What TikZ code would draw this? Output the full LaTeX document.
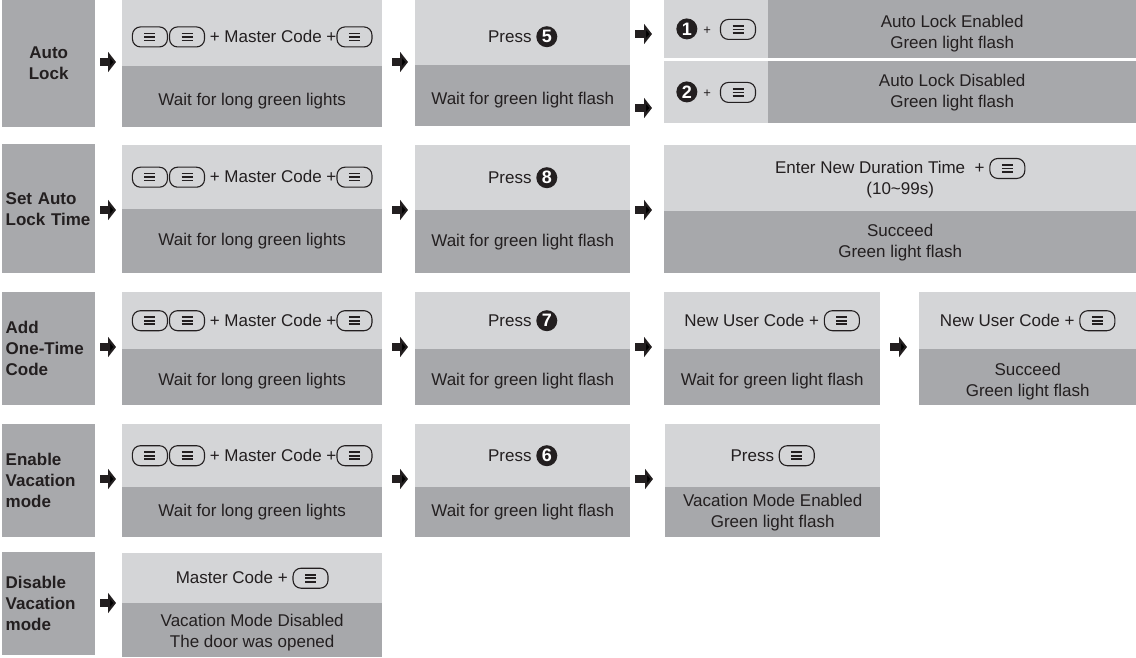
\documentclass[tikz,border=0pt]{standalone}
\usepackage{fontspec}
\setmainfont{Liberation Sans}
\usetikzlibrary{arrows.meta}
\definecolor{rowgray}{HTML}{A8A9AC}
\definecolor{boxlight}{HTML}{D4D5D7}
\definecolor{boxdark}{HTML}{A7A8AB}
\definecolor{textgray}{HTML}{231F20}
% key with three bars
\newcommand{\keyicon}{\tikz[baseline={(0pt,4.5pt)}]{%
  \draw[draw=textgray, line width=1.1pt, rounded corners=8pt] (0pt,0pt) rectangle (35pt,20pt);
  \foreach \dy in {6.5,10,13.5} \draw[draw=textgray, line width=1.6pt] (12pt,\dy pt) -- (23pt,\dy pt);}}
% black disc with a white digit
\newcommand{\numdot}[1]{\tikz[baseline={(0pt,-6pt)}]{%
  \fill[textgray] (0pt,0pt) circle[radius=10.5pt];
  \node[anchor=center, inner sep=0pt, minimum size=0pt, fill=none, draw=none, text=white,
    font=\fontsize{18}{18}\bfseries\selectfont] at (0pt,0pt) {#1};}}
\newcommand{\smallplus}{{\fontsize{13}{13}\selectfont +}}
\newcommand{\topstrut}[1]{\rule{0pt}{#1}}
\begin{document}
\begin{tikzpicture}[x=1pt, y=-1pt,
    box/.style={anchor=north west, inner sep=0pt, align=center, text=textgray,
      font=\fontsize{17}{21}\selectfont},
    upper/.style={box, fill=boxlight},
    lower/.style={box, fill=boxdark},
    drop/.style={text height=#1},
    rowname/.style={anchor=north west, inner xsep=0pt, inner ysep=6pt, fill=rowgray, text=textgray,
      text width=86pt, align=left, minimum width=93pt, font=\fontsize{17}{21}\bfseries\selectfont},
    blk/.style={draw=textgray, line width=8pt, -{Triangle[length=8pt,width=20pt]}}]
  \useasboundingbox (0,0) rectangle (1136,658);

  % Auto Lock
  \node[rowname, align=center, minimum height=127pt] (lab1) at (2,0) {Auto\\Lock};
  \node[upper, drop=23.5pt, minimum width=260pt, minimum height=66pt] (a1t) at (122,0) {\keyicon\hspace{1pt}\keyicon\ + Master Code +\keyicon};
  \node[lower, drop=20.5pt, minimum width=260pt, minimum height=61pt] (a1b) at (122,66) {Wait for long green lights};
  \node[upper, drop=24.5pt, minimum width=215pt, minimum height=65pt] (a2t) at (415,0) {Press \numdot{5}};
  \node[lower, drop=20.5pt, minimum width=215pt, minimum height=61pt] (a2b) at (415,65) {Wait for green light flash};
  \node[upper, minimum width=104pt, minimum height=58pt] (a3l) at (664,0) {\numdot{1}\hspace{6pt}\smallplus\hspace{9pt}\keyicon};
  \node[lower, minimum width=368pt, minimum height=58pt] (a3r) at (768,0) {\topstrut{20.5pt}Auto Lock Enabled\\Green light flash};
  \node[upper, minimum width=104pt, minimum height=62pt] (a4l) at (664,61) {\numdot{2}\hspace{6pt}\smallplus\hspace{9pt}\keyicon};
  \node[lower, minimum width=368pt, minimum height=62pt] (a4r) at (768,61) {Auto Lock Disabled\\Green light flash};

  % Set Auto Lock Time
  \node[rowname, minimum height=129pt] (lab2) at (2,144) {Set Auto\\Lock Time};
  \node[upper, minimum width=260pt, minimum height=64pt] (b1t) at (122,145) {\keyicon\hspace{1pt}\keyicon\ + Master Code +\keyicon};
  \node[lower, minimum width=260pt, minimum height=64pt] (b1b) at (122,209) {Wait for long green lights};
  \node[upper, minimum width=215pt, minimum height=65pt] (b2t) at (415,145) {Press \numdot{8}};
  \node[lower, minimum width=215pt, minimum height=63pt] (b2b) at (415,210) {Wait for green light flash};
  \node[upper, minimum width=472pt, minimum height=66pt] (b3t) at (664,145) {Enter New Duration Time \ + \keyicon\\(10\textasciitilde 99s)};
  \node[lower, minimum width=472pt, minimum height=62pt] (b3b) at (664,211) {Succeed\\Green light flash};

  % Add One-Time Code
  \node[rowname, minimum height=113pt] (lab3) at (2,292) {Add\\One-Time\\Code};
  \node[upper, minimum width=260pt, minimum height=57pt] (c1t) at (122,292) {\keyicon\hspace{1pt}\keyicon\ + Master Code +\keyicon};
  \node[lower, drop=20.5pt, minimum width=260pt, minimum height=56pt] (c1b) at (122,349) {Wait for long green lights};
  \node[upper, minimum width=215pt, minimum height=57pt] (c2t) at (415,292) {Press \numdot{7}};
  \node[lower, drop=20.5pt, minimum width=215pt, minimum height=56pt] (c2b) at (415,349) {Wait for green light flash};
  \node[upper, minimum width=216pt, minimum height=57pt] (c3t) at (664,292) {New User Code + \keyicon};
  \node[lower, drop=20.5pt, minimum width=216pt, minimum height=56pt] (c3b) at (664,349) {Wait for green light flash};
  \node[upper, minimum width=217pt, minimum height=57pt] (c4t) at (919,292) {New User Code + \keyicon};
  \node[lower, minimum width=217pt, minimum height=56pt] (c4b) at (919,349) {\topstrut{20.5pt}Succeed\\Green light flash};

  % Enable Vacation mode
  \node[rowname, minimum height=113pt] (lab4) at (2,424) {Enable\\Vacation\\mode};
  \node[upper, minimum width=260pt, minimum height=63pt] (d1t) at (122,424) {\keyicon\hspace{1pt}\keyicon\ + Master Code +\keyicon};
  \node[lower, minimum width=260pt, minimum height=50pt] (d1b) at (122,487) {Wait for long green lights};
  \node[upper, minimum width=215pt, minimum height=63pt] (d2t) at (415,424) {Press \numdot{6}};
  \node[lower, minimum width=215pt, minimum height=50pt] (d2b) at (415,487) {Wait for green light flash};
  \node[upper, minimum width=215pt, minimum height=63pt] (d3t) at (665,424) {Press \keyicon};
  \node[lower, minimum width=215pt, minimum height=50pt] (d3b) at (665,487) {Vacation Mode Enabled\\Green light flash};

  % Disable Vacation mode
  \node[rowname, minimum height=103pt] (lab5) at (2,552) {Disable\\Vacation\\mode};
  \node[upper, minimum width=260pt, minimum height=50pt] (e1t) at (122,553) {Master Code + \keyicon};
  \node[lower, minimum width=260pt, minimum height=54pt] (e1b) at (122,603) {\topstrut{17.5pt}Vacation Mode Disabled\\The door was opened};

  % arrows
  \coordinate (r1) at (0,62);
  \coordinate (r1a) at (0,34);
  \coordinate (r1b) at (0,108);
  \coordinate (r2) at (0,210);
  \coordinate (r3) at (0,347);
  \coordinate (r4) at (0,479);
  \coordinate (r5) at (0,603);
  \draw[blk] ([xshift=5pt]lab1.east |- r1) -- ([xshift=-6pt]a1t.west |- r1);
  \draw[blk] ([xshift=10pt]a1t.east |- r1) -- ([xshift=-7pt]a2t.west |- r1);
  \draw[blk] ([xshift=5pt]a2t.east |- r1a) -- ([xshift=-12pt]a3l.west |- r1a);
  \draw[blk] ([xshift=5pt]a2t.east |- r1b) -- ([xshift=-12pt]a3l.west |- r1b);
  \draw[blk] ([xshift=5pt]lab2.east |- r2) -- ([xshift=-6pt]b1t.west |- r2);
  \draw[blk] ([xshift=10pt]b1t.east |- r2) -- ([xshift=-7pt]b2t.west |- r2);
  \draw[blk] ([xshift=5pt]b2t.east |- r2) -- ([xshift=-12pt]b3t.west |- r2);
  \draw[blk] ([xshift=5pt]lab3.east |- r3) -- ([xshift=-6pt]c1t.west |- r3);
  \draw[blk] ([xshift=10pt]c1t.east |- r3) -- ([xshift=-7pt]c2t.west |- r3);
  \draw[blk] ([xshift=5pt]c2t.east |- r3) -- ([xshift=-12pt]c3t.west |- r3);
  \draw[blk] ([xshift=10pt]c3t.east |- r3) -- ([xshift=-12pt]c4t.west |- r3);
  \draw[blk] ([xshift=5pt]lab4.east |- r4) -- ([xshift=-6pt]d1t.west |- r4);
  \draw[blk] ([xshift=10pt]d1t.east |- r4) -- ([xshift=-7pt]d2t.west |- r4);
  \draw[blk] ([xshift=5pt]d2t.east |- r4) -- ([xshift=-12pt]d3t.west |- r4);
  \draw[blk] ([xshift=5pt]lab5.east |- r5) -- ([xshift=-6pt]e1t.west |- r5);
\end{tikzpicture}
\end{document}
